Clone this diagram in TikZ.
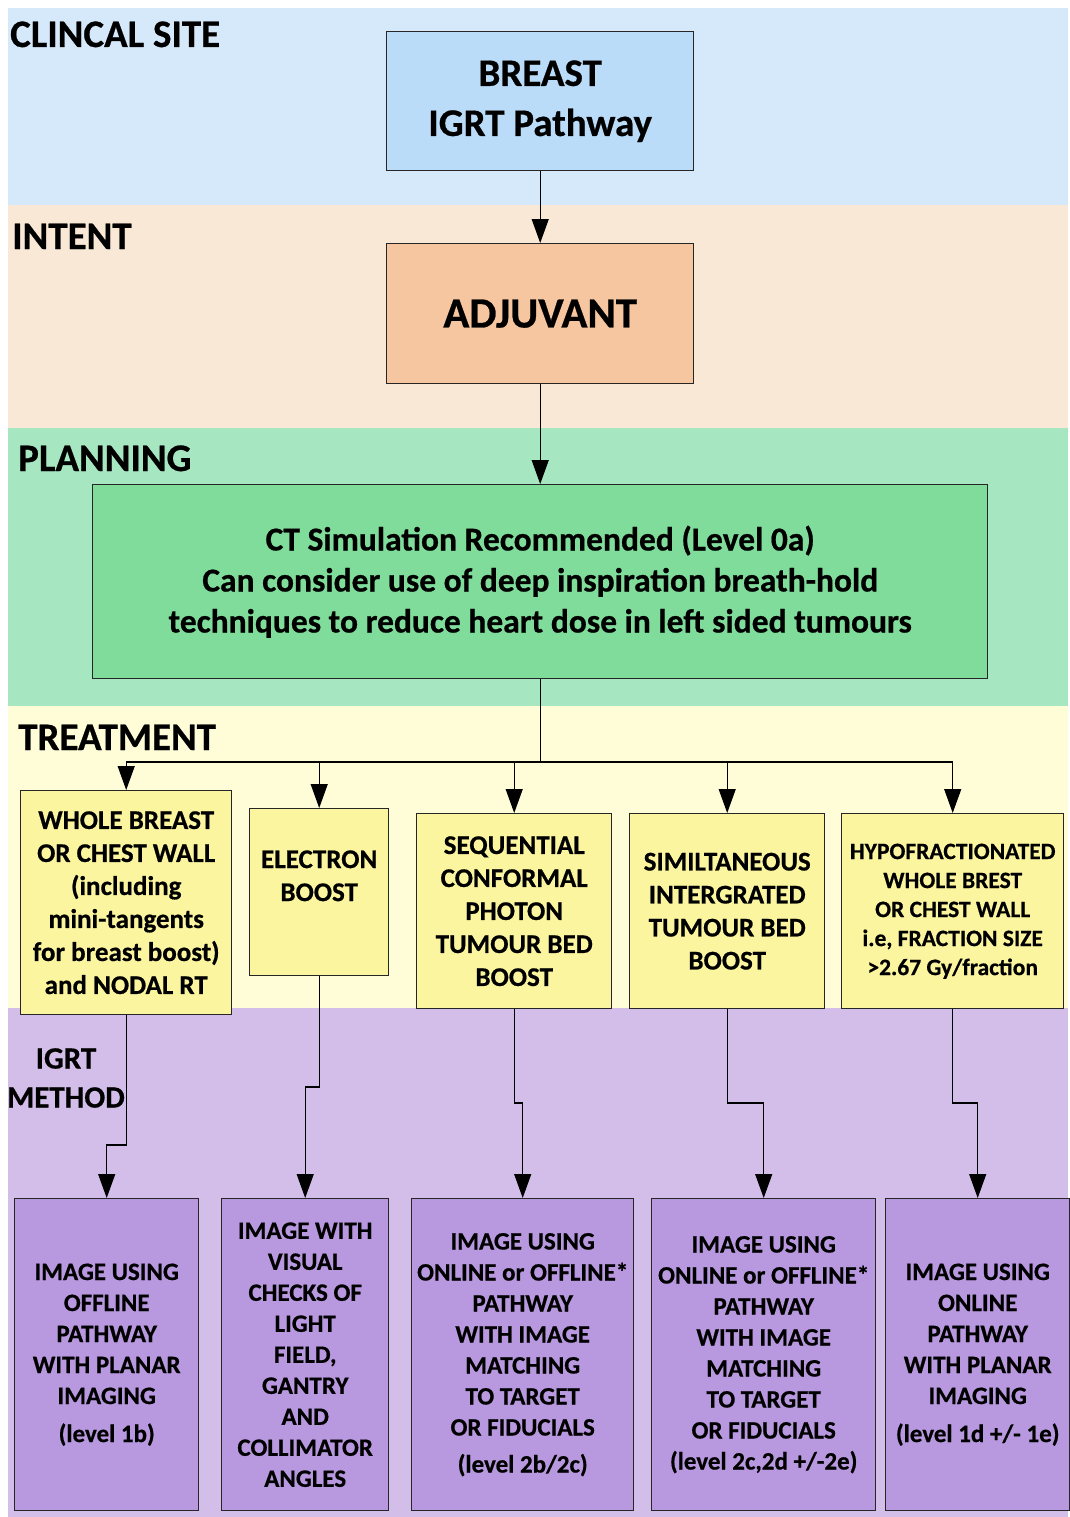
\documentclass[tikz,border=0pt]{standalone}
\usepackage{fontspec}
\setmainfont{Carlito}[BoldFeatures={FakeBold=0.6}]
\usetikzlibrary{arrows.meta,calc}
\definecolor{bandblue}{HTML}{D6E9FA}
\definecolor{boxblue}{HTML}{BADCF8}
\definecolor{bandpeach}{HTML}{FAE8D6}
\definecolor{boxpeach}{HTML}{F6C6A0}
\definecolor{bandgreen}{HTML}{A6E6C0}
\definecolor{boxgreen}{HTML}{7FDC9A}
\definecolor{bandyellow}{HTML}{FEFDD8}
\definecolor{boxyellow}{HTML}{FCF5A0}
\definecolor{bandlav}{HTML}{D3BEEA}
\definecolor{boxlav}{HTML}{B898DE}
\newcommand{\fsz}[2]{\fontsize{#1}{#2}\selectfont\bfseries}
\begin{document}
\begin{tikzpicture}[x=1pt,y=-1pt,
  box/.style={draw=black!85, line width=1.4pt, align=center, inner sep=0pt, anchor=north west},
  tbox/.style={box, fill=boxyellow, font=\fsz{27}{33}},
  ibox/.style={box, fill=boxlav, minimum height=312pt, font=\fsz{25}{31}},
  sect/.style={anchor=base west, inner sep=0pt, font=\fsz{39}{39}},
  arr/.style={line width=1.2pt, -{Triangle[length=24pt,width=17pt]}}]
\useasboundingbox (0,0) rectangle (1070,1517);
\fill[white] (0,0) rectangle (1070,1517);
\fill[bandblue] (8,8) rectangle (1068,205);
\fill[bandpeach] (8,205) rectangle (1068,428);
\fill[bandgreen] (8,428) rectangle (1068,706);
\fill[bandyellow] (8,706) rectangle (1068,1008);
\fill[bandlav] (8,1008) rectangle (1068,1517);

% section labels
\node[sect] (lsite) at (10,47) {CLINCAL SITE};
\node[sect] (lintent) at (12,249) {INTENT};
\node[sect] (lplan) at (18,471) {PLANNING};
\node[sect] (ltreat) at (18,750) {TREATMENT};
\node[align=center, inner sep=0pt, font=\fsz{31}{39}] (ligrt) at (66,1078) {IGRT\\METHOD};

% main nodes
\node[box, fill=boxblue, minimum width=307pt, minimum height=139pt, font=\fsz{39}{50}] (breast) at (386,31) {BREAST\\IGRT Pathway};
\node[box, fill=boxpeach, minimum width=307pt, minimum height=140pt, font=\fsz{43}{50}] (adj) at (386,243) {ADJUVANT};
\node[box, fill=boxgreen, minimum width=895pt, minimum height=194pt, font=\fsz{33.5}{41}] (ct) at (92,484) {CT Simulation Recommended (Level 0a)\\Can consider use of deep inspiration breath-hold\\techniques to reduce heart dose in left sided tumours};

% treatment
\node[tbox, minimum width=211pt, minimum height=224pt] (t1) at (20,790) {WHOLE BREAST\\OR CHEST WALL\\(including\\mini-tangents\\for breast boost)\\and NODAL RT};
\node[tbox, minimum width=139pt, minimum height=167pt] (t2) at (249,808) {ELECTRON\\BOOST\\\mbox{}};
\node[tbox, minimum width=195pt, minimum height=195pt] (t3) at (416,813) {SEQUENTIAL\\CONFORMAL\\PHOTON\\TUMOUR BED\\BOOST};
\node[tbox, minimum width=195pt, minimum height=195pt] (t4) at (629,813) {SIMILTANEOUS\\INTERGRATED\\TUMOUR BED\\BOOST};
\node[tbox, minimum width=222pt, minimum height=195pt, font=\fsz{23.5}{29}] (t5) at (841,813) {HYPOFRACTIONATED\\WHOLE BREST\\OR CHEST WALL\\i.e, FRACTION SIZE\\>2.67 Gy/fraction};

% IGRT methods
\node[ibox, minimum width=184pt] (i1) at (14,1198) {IMAGE USING\\OFFLINE\\PATHWAY\\WITH PLANAR\\IMAGING\\[7pt](level 1b)};
\node[ibox, minimum width=167pt] (i2) at (221,1198) {IMAGE WITH\\VISUAL\\CHECKS OF\\LIGHT\\FIELD,\\GANTRY\\AND\\COLLIMATOR\\ANGLES};
\node[ibox, minimum width=222pt] (i3) at (411,1198) {IMAGE USING\\ONLINE or OFFLINE*\\PATHWAY\\WITH IMAGE\\MATCHING\\TO TARGET\\OR FIDUCIALS\\[6pt](level 2b/2c)};
\node[ibox, minimum width=224pt] (i4) at (651,1198) {IMAGE USING\\ONLINE or OFFLINE*\\PATHWAY\\WITH IMAGE\\MATCHING\\TO TARGET\\OR FIDUCIALS\\(level 2c,2d +/-2e)};
\node[ibox, minimum width=184pt] (i5) at (885,1198) {IMAGE USING\\ONLINE\\PATHWAY\\WITH PLANAR\\IMAGING\\[7pt](level 1d +/- 1e)};

% connectors
\draw[arr] (breast.south) -- (adj.north);
\draw[arr] (adj.south) -- (ct.north);
\coordinate (bus) at (0,762);
\foreach \t in {t1,t2,t3,t4,t5}
  \draw[arr] (ct.south) -- (ct.south |- bus) -| (\t.north);

\coordinate (k1) at (0,1145);
\coordinate (k2) at (0,1087);
\coordinate (k3) at (0,1103);
\draw[arr] (t1.south) -- (t1.south |- k1) -| (i1.north);
\draw[arr] (t2.south) -- (t2.south |- k2) -| (i2.north);
\draw[arr] (t3.south) -- (t3.south |- k3) -| (i3.north);
\draw[arr] (t4.south) -- (t4.south |- k3) -| (i4.north);
\draw[arr] (t5.south) -- (t5.south |- k3) -| (i5.north);
\end{tikzpicture}
\end{document}
